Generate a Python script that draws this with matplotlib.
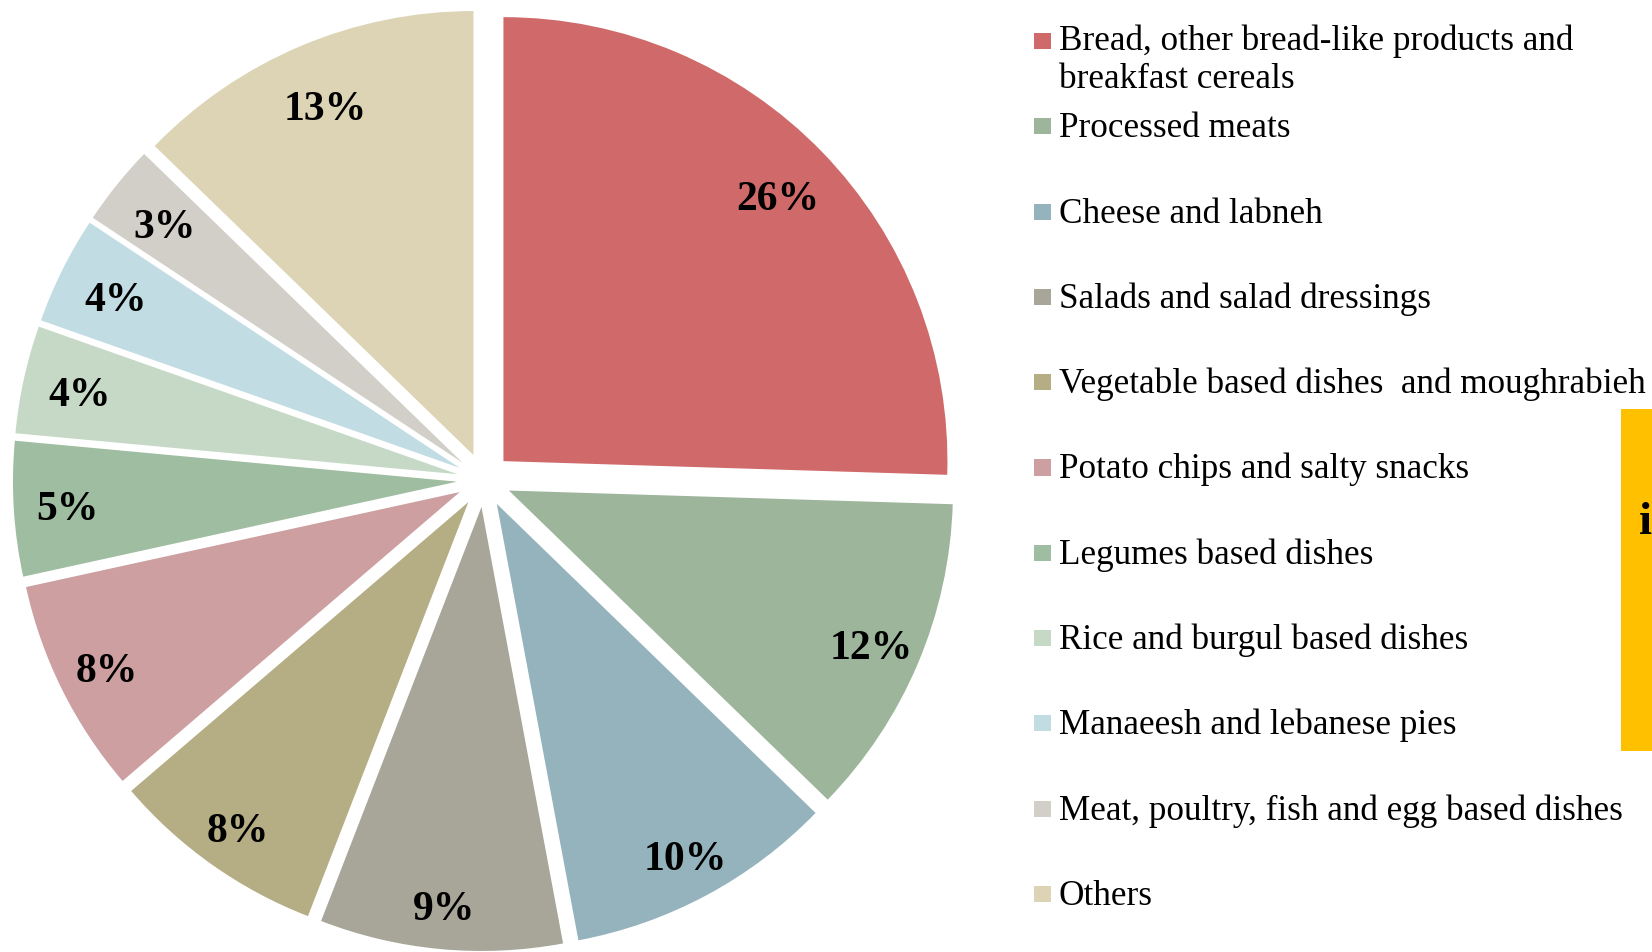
import numpy as np
import matplotlib
matplotlib.use("Agg")
import matplotlib.pyplot as plt
import matplotlib.patches as patches

W, H = 1652, 952

categories = [
    "Bread, other bread-like products and\nbreakfast cereals",
    "Processed meats",
    "Cheese and labneh",
    "Salads and salad dressings",
    "Vegetable based dishes  and moughrabieh",
    "Potato chips and salty snacks",
    "Legumes based dishes",
    "Rice and burgul based dishes",
    "Manaeesh and lebanese pies",
    "Meat, poultry, fish and egg based dishes",
    "Others",
]
shares = [26, 12, 10, 9, 8, 8, 5, 4, 4, 3, 13]
colors = [
    "#D06969", "#9DB59B", "#95B3BD", "#A8A699", "#B5AD84", "#CD9FA1",
    "#9FBDA0", "#C5D9C6", "#C1DCE3", "#D1CFC7", "#DCD4B5",
]


def fx(x):
    return x / W


def fy(y):
    return 1 - y / H


fig = plt.figure(figsize=(W / 100, H / 100), dpi=100)

# pie axes: centre (484, 480) px, radius 444 px, limits +-1.1
R, cx, cy, lim = 444, 484, 480, 1.1
side = 2 * lim * R
ax = fig.add_axes([fx(cx - side / 2), fy(cy + side / 2), side / W, side / H])

wedges, _ = ax.pie(shares, colors=colors, startangle=90, counterclock=False,
                   explode=[0.061] * len(shares), radius=1.0)
ax.set_xlim(-lim, lim)
ax.set_ylim(-lim, lim)
ax.set_aspect("equal")
ax.axis("off")

for w, v in zip(wedges, shares):
    w.set_clip_on(False)
    mid = np.deg2rad((w.theta1 + w.theta2) / 2)
    # labels sit a little further out on the lower half
    dist = 0.877 - 0.025 * np.sin(mid)
    x = w.center[0] + dist * np.cos(mid)
    y = w.center[1] + dist * np.sin(mid)
    ax.text(x, y, f"{v}%", ha="center", va="center_baseline", fontsize=30,
            fontweight="bold", family="Liberation Serif", color="black")

# legend drawn by hand, one row every 85.3 px (first-line baselines)
base0, step, line_gap = 52, 85.3, 36
for i, (lab, col) in enumerate(zip(categories, colors)):
    b = base0 + i * step
    fig.patches.append(patches.Rectangle(
        (fx(1034), fy(b - 3)), 17 / W, 16 / H, transform=fig.transFigure,
        facecolor=col, edgecolor="none"))
    extra = lab.count("\n") * line_gap
    fig.text(fx(1059), fy(b + extra), lab, ha="left", va="baseline",
             fontsize=25.3, family="Liberation Serif", color="black",
             linespacing=1.19)

# yellow side box
fig.patches.append(patches.Rectangle(
    (fx(1621), fy(751)), 31 / W, 342 / H, transform=fig.transFigure,
    facecolor="#FFC000", edgecolor="none"))
fig.text(fx(1639), fy(534), "i", ha="left", va="baseline", fontsize=34,
         fontweight="bold", family="Liberation Serif", color="black")

fig.savefig("out.png", dpi=100)
